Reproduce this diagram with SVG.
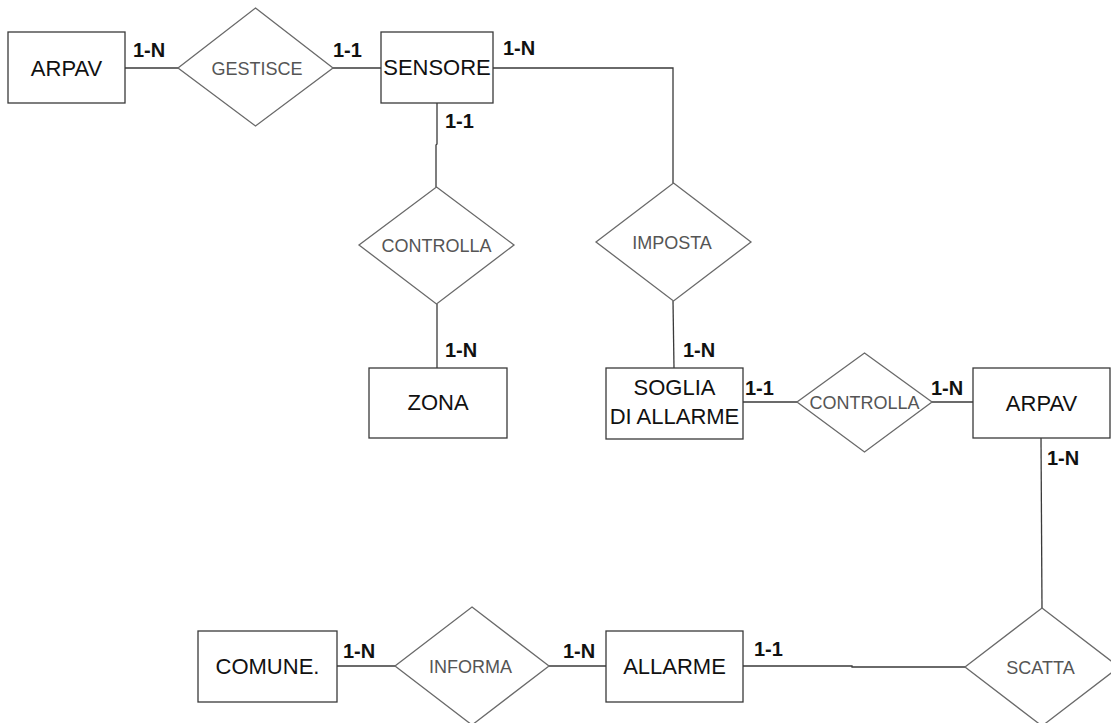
<svg xmlns="http://www.w3.org/2000/svg" width="1111" height="723" viewBox="0 0 1111 723">
  <style>
    .ent { fill: #ffffff; stroke: #3a3a3a; stroke-width: 1.3; }
    .rel { fill: #ffffff; stroke: #6a6a6a; stroke-width: 1.3; }
    .etxt { font-family: "Liberation Sans", Arial, sans-serif; font-size: 22px; fill: #111; text-anchor: middle; }
    .rtxt { font-family: "Liberation Sans", Arial, sans-serif; font-size: 18px; fill: #555; text-anchor: middle; }
    .card { font-family: "Liberation Sans", Arial, sans-serif; font-size: 20px; font-weight: bold; fill: #111; }
    .link { fill: none; stroke: #3a3a3a; stroke-width: 1.3; }
  </style>
  <rect width="1111" height="723" fill="#ffffff"/>

  <!-- connectors -->
  <g id="connectors">
    <line class="link" x1="125" y1="68" x2="178" y2="68"/>
    <line class="link" x1="333" y1="68" x2="381" y2="68"/>
    <polyline class="link" points="493,68 673,68 673,183"/>
    <polyline class="link" points="437,103 437,144 436,145 436,187"/>
    <line class="link" x1="437" y1="304" x2="437" y2="368"/>
    <line class="link" x1="673" y1="301" x2="674" y2="368"/>
    <line class="link" x1="743" y1="402" x2="797" y2="402"/>
    <line class="link" x1="932" y1="402" x2="973" y2="402"/>
    <line class="link" x1="1041" y1="438" x2="1042" y2="608"/>
    <polyline class="link" points="743,666 852,666 852,667 965,667"/>
    <line class="link" x1="337" y1="666" x2="395" y2="666"/>
    <line class="link" x1="549" y1="666" x2="606" y2="666"/>
  </g>

  <!-- entities -->
  <g id="arpav-top">
    <rect class="ent" x="8" y="32" width="117" height="71"/>
    <text class="etxt" x="66.5" y="76">ARPAV</text>
  </g>
  <g id="sensore">
    <rect class="ent" x="381" y="32" width="112" height="71"/>
    <text class="etxt" x="437" y="75">SENSORE</text>
  </g>
  <g id="zona">
    <rect class="ent" x="369" y="368" width="138" height="70"/>
    <text class="etxt" x="438" y="410">ZONA</text>
  </g>
  <g id="soglia">
    <rect class="ent" x="606" y="368" width="137" height="71"/>
    <text class="etxt" x="674.5" y="395">SOGLIA</text>
    <text class="etxt" x="674.5" y="424">DI ALLARME</text>
  </g>
  <g id="arpav-right">
    <rect class="ent" x="973" y="368" width="137" height="70"/>
    <text class="etxt" x="1041.5" y="411">ARPAV</text>
  </g>
  <g id="allarme">
    <rect class="ent" x="606" y="631" width="137" height="71"/>
    <text class="etxt" x="674.5" y="674">ALLARME</text>
  </g>
  <g id="comune">
    <rect class="ent" x="198" y="631" width="139" height="71"/>
    <text class="etxt" x="267.5" y="674">COMUNE.</text>
  </g>

  <!-- relationships -->
  <g id="gestisce">
    <polygon class="rel" points="255.5,8 333,68 255.5,126 178,68"/>
    <text class="rtxt" x="257" y="74.5">GESTISCE</text>
  </g>
  <g id="controlla-zona">
    <polygon class="rel" points="436.5,187 514,245 436.5,304 359,245"/>
    <text class="rtxt" x="436.5" y="251.5">CONTROLLA</text>
  </g>
  <g id="imposta">
    <polygon class="rel" points="673.5,183 751,242 673.5,301 596,242"/>
    <text class="rtxt" x="672" y="248.5">IMPOSTA</text>
  </g>
  <g id="controlla-soglia">
    <polygon class="rel" points="864.5,353 932,402 864.5,452 797,402"/>
    <text class="rtxt" x="864.5" y="408.5">CONTROLLA</text>
  </g>
  <g id="scatta">
    <polygon class="rel" points="1042,608 1119,667 1042,726 965,667"/>
    <text class="rtxt" x="1040.5" y="673.5">SCATTA</text>
  </g>
  <g id="informa">
    <polygon class="rel" points="472,607 549,666 472,725 395,666"/>
    <text class="rtxt" x="470.5" y="672.5">INFORMA</text>
  </g>

  <!-- cardinalities -->
  <g id="cardinalities">
    <text class="card" x="133" y="57">1-N</text>
    <text class="card" x="333" y="57">1-1</text>
    <text class="card" x="503" y="55">1-N</text>
    <text class="card" x="445" y="128">1-1</text>
    <text class="card" x="445" y="357">1-N</text>
    <text class="card" x="683" y="357">1-N</text>
    <text class="card" x="745" y="395">1-1</text>
    <text class="card" x="931" y="395">1-N</text>
    <text class="card" x="1047" y="465">1-N</text>
    <text class="card" x="754" y="656">1-1</text>
    <text class="card" x="343" y="658">1-N</text>
    <text class="card" x="563" y="658">1-N</text>
  </g>
</svg>
